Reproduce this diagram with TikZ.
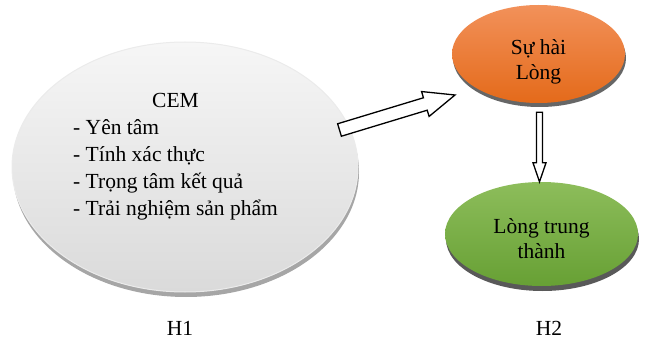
\documentclass[tikz,border=0pt]{standalone}
\usepackage{fontspec}
\setmainfont{Liberation Serif}
\usetikzlibrary{positioning,calc,shapes.geometric,shadows}
\definecolor{cemtop}{HTML}{F6F6F6}
\definecolor{cembot}{HTML}{DADADA}
\definecolor{orgtop}{HTML}{F2915A}
\definecolor{orgbot}{HTML}{E46A1A}
\definecolor{grntop}{HTML}{8DBD5B}
\definecolor{grnbot}{HTML}{67A034}

% block arrow: tail, tip, half shaft, half head, head length
\newcommand{\blkarrow}[5]{%
  \coordinate (ba-n) at ($(#2)!#5!(#1)$);
  \draw[fill=white, line width=1.3pt, line join=miter]
    ($(#1)!#3!90:(#2)$) -- ($(ba-n)!#3!-90:(#1)$) -- ($(ba-n)!#4!-90:(#1)$) -- (#2)
    -- ($(ba-n)!#4!90:(#1)$) -- ($(ba-n)!#3!90:(#1)$) -- ($(#1)!#3!-90:(#2)$) -- cycle;}

\begin{document}
\begin{tikzpicture}[x=1pt, y=-1pt,
    bubble/.style={ellipse, inner sep=0pt},
    lbl/.style={font=\fontsize{21.5}{25}\selectfont, inner sep=0pt, anchor=base}]
    \useasboundingbox (0,0) rectangle (645,342);

    \node[bubble, minimum width=346pt, minimum height=250pt, top color=cemtop, bottom color=cembot,
      draw=white!92!black, line width=1pt,
      drop shadow={shadow xshift=1pt, shadow yshift=-5pt, fill=black!35, opacity=1}] (cem) at (185,167) {};
    \node[bubble, minimum width=173pt, minimum height=98pt, top color=orgtop, bottom color=orgbot,
      drop shadow={shadow xshift=1pt, shadow yshift=-4pt, fill=black!60, opacity=1}] (hl) at (538.5,54) {};
    \node[bubble, minimum width=193pt, minimum height=104pt, top color=grntop, bottom color=grnbot,
      drop shadow={shadow xshift=1pt, shadow yshift=-5pt, fill=black!65, opacity=1}] (lt) at (541.5,234) {};

    \node[lbl, anchor=base west, font=\fontsize{21.5}{27}\selectfont] (cemtxt) at (73,108)
      {\begin{tabular}[t]{@{}l@{}}\multicolumn{1}{@{}c@{}}{CEM}\\- Yên tâm\\- Tính xác thực\\- Trọng tâm kết quả\\- Trải nghiệm sản phẩm\end{tabular}};
    \node[lbl] (hltxt) at (538.5,55) {\begin{tabular}[t]{@{}c@{}}Sự hài\\Lòng\end{tabular}};
    \node[lbl] (lttxt) at (541.5,233) {\begin{tabular}[t]{@{}c@{}}Lòng trung\\thành\end{tabular}};

    \node[lbl] (h1) at (180,335) {H1};
    \node[lbl] (h2) at (549,335) {H2};

    \coordinate (a1s) at (339.5,130);
    \coordinate (a1e) at (455,95);
    \coordinate (a2s) at ($(hl.south)+(1,9)$);
    \coordinate (a2e) at (lt.north -| a2s);
    \blkarrow{a1s}{a1e}{6.5pt}{13pt}{31pt}
    \blkarrow{a2s}{a2e}{3pt}{6.5pt}{19pt}
\end{tikzpicture}
\end{document}
